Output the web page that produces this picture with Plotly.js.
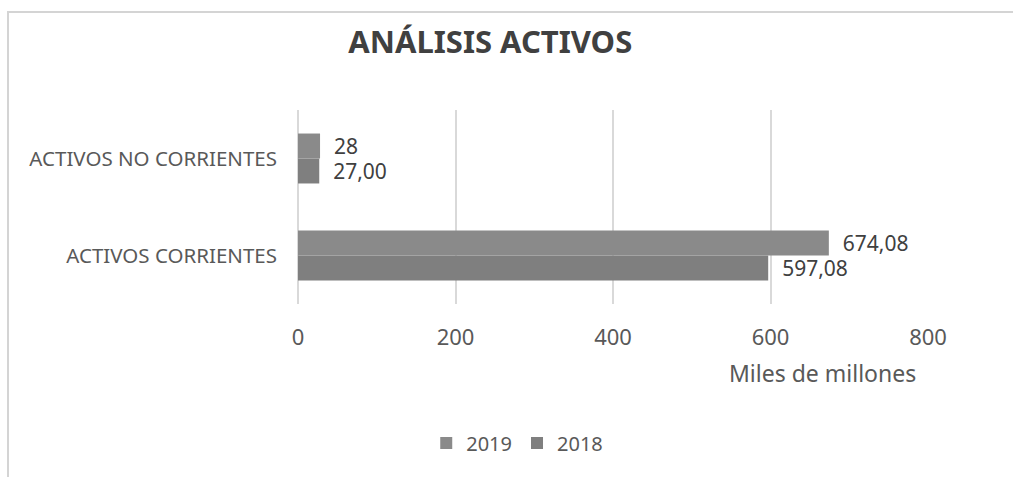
<!DOCTYPE html>
<html>
<head>
<meta charset="utf-8">
<script src="https://cdn.plot.ly/plotly-3.0.1.min.js"></script>
<style>
    body { margin: 0; background: #fff; }
    #wrap { position: relative; width: 1013px; height: 477px; overflow: hidden; }
    #chart { width: 1013px; height: 477px; }
    #frame {
        position: absolute; left: 7px; top: 11px; width: 1100px; height: 600px;
        border-left: 2px solid #d4d4d4; border-top: 2px solid #d4d4d4;
        pointer-events: none;
    }
</style>
</head>
<body>
<div id="wrap">
    <div id="chart"></div>
    <div id="frame"></div>
</div>
<script>
const categories = ["ACTIVOS CORRIENTES", "ACTIVOS NO CORRIENTES"];
const values2019 = [674.08, 28];
const values2018 = [597.08, 27.00];
const labels2019 = ["674,08", "28"];
const labels2018 = ["597,08", "27,00"];
const xTicks = [0, 200, 400, 600, 800];

const font = "'Noto Sans', 'Open Sans', sans-serif";
const ink = "#595959";
const grid = "#d9d9d9";

function series(name, x, text, color) {
    return {
        type: "bar",
        orientation: "h",
        name,
        x,
        y: categories,
        text,
        texttemplate: "\u00A0\u00A0%{text}",
        textposition: "outside",
        constraintext: "none",
        cliponaxis: false,
        textfont: { family: font, size: 21, color: "#404040" },
        marker: { color },
        hoverinfo: "x+name"
    };
}

// 2018 first so that 2019 sits on top within each group
const data = [
    series("2018", values2018, labels2018, "#7f7f7f"),
    series("2019", values2019, labels2019, "#8a8a8a")
];

const layout = {
    width: 1013,
    height: 477,
    margin: { l: 298, r: 85, t: 110, b: 173 },
    paper_bgcolor: "#fff",
    plot_bgcolor: "#fff",
    font: { family: font, color: ink },
    title: {
        text: "<b>ANÁLISIS ACTIVOS</b>",
        font: { family: font, size: 31, color: "#404040" },
        xref: "container", x: 0.484, xanchor: "center",
        yref: "container", y: 0.912, yanchor: "middle"
    },
    barmode: "group",
    bargap: 0.485,
    bargroupgap: 0,
    xaxis: {
        range: [0, 800],
        tickvals: xTicks,
        showgrid: true,
        gridcolor: grid,
        gridwidth: 2,
        zeroline: true,
        zerolinecolor: grid,
        zerolinewidth: 2,
        showline: false,
        ticks: "",
        ticklabelstandoff: 18,
        tickfont: { family: font, size: 22, color: ink },
        fixedrange: true
    },
    yaxis: {
        type: "category",
        categoryorder: "array",
        categoryarray: categories,
        showgrid: false,
        zeroline: false,
        showline: false,
        ticks: "",
        ticklabelstandoff: 20,
        tickfont: { family: font, size: 20.5, color: ink },
        fixedrange: true
    },
    showlegend: true,
    legend: {
        orientation: "h",
        traceorder: "reversed",
        x: 0.348, xanchor: "center",
        y: -0.716, yanchor: "middle",
        font: { family: font, size: 20, color: ink },
        itemwidth: 30
    },
    annotations: [{
        text: "Miles de millones",
        xref: "paper", yref: "paper",
        x: 0.833, y: -0.356,
        xanchor: "center", yanchor: "middle",
        showarrow: false,
        font: { family: font, size: 23, color: ink }
    }]
};

Plotly.newPlot("chart", data, layout, { displayModeBar: false, staticPlot: true });
</script>
</body>
</html>
